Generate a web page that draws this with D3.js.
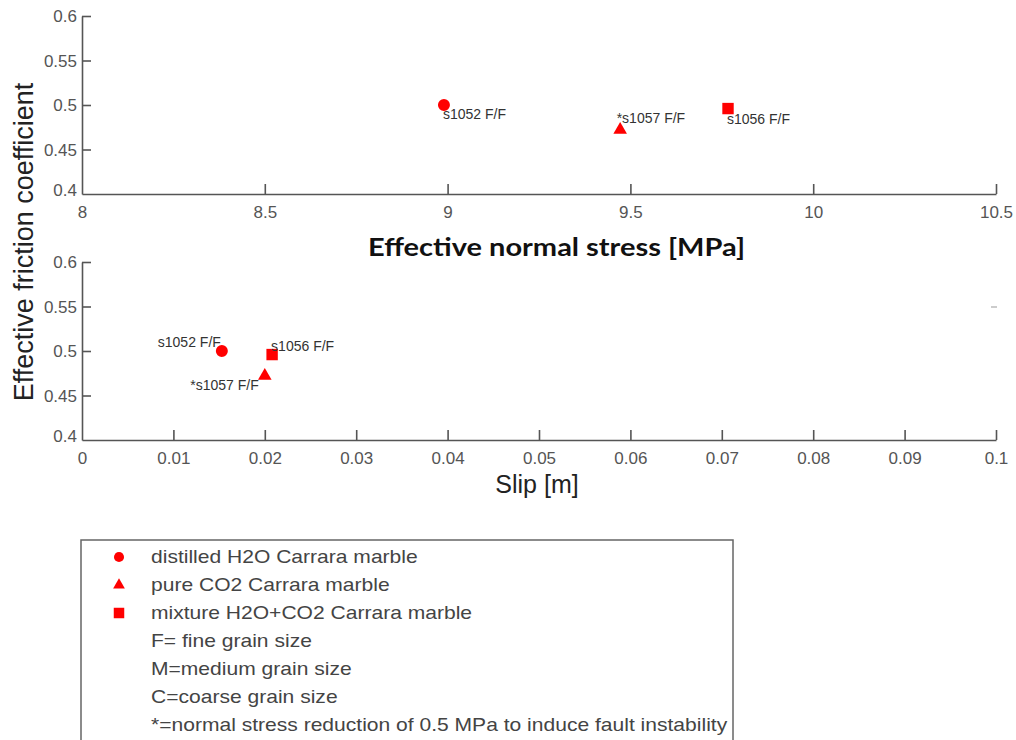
<!DOCTYPE html>
<html>
<head>
<meta charset="utf-8">
<script src="https://cdn.jsdelivr.net/npm/d3@7"></script>
<style>
  body { margin: 0; background: #fff; }
  svg { display: block; }
  .tick text { font-family: Arial, "Liberation Sans", sans-serif; font-size: 17px; fill: #555; }
  .axis path, .axis line { stroke: #555; stroke-width: 1.6px; }
</style>
</head>
<body>
<svg id="chart"></svg>
<script>
// sample data
const samples = ["s1052 F/F", "*s1057 F/F", "s1056 F/F"];
const shapes = ["circle", "triangle", "square"];
const stress = [8.99, 9.472, 9.767];      // effective normal stress [MPa]
const slip = [0.0153, 0.0200, 0.0208];    // slip [m]
const friction = [0.500, 0.472, 0.496];   // effective friction coefficient

const stressTicks = [8, 8.5, 9, 9.5, 10, 10.5];
const slipTicks = [0, 0.01, 0.02, 0.03, 0.04, 0.05, 0.06, 0.07, 0.08, 0.09, 0.1];
const frictionTicks = [0.4, 0.45, 0.5, 0.55, 0.6];

const legendItems = [
    ["circle", "distilled H2O Carrara marble"],
    ["triangle", "pure CO2 Carrara marble"],
    ["square", "mixture H2O+CO2 Carrara marble"],
    [null, "F= fine grain size"],
    [null, "M=medium grain size"],
    [null, "C=coarse grain size"],
    [null, "*=normal stress reduction of 0.5 MPa to induce fault instability"]
];

const width = 1016;
const height = 740;
const red = "#ff0000";

const svg = d3.select("#chart")
    .attr("width", width)
    .attr("height", height);

const symbolFor = {
    circle: d3.symbol(d3.symbolCircle, 113),
    triangle: d3.symbol(d3.symbolTriangle, 80),
    square: d3.symbol(d3.symbolSquare, 130)
};

const x1 = d3.scaleLinear().domain([8, 10.5]).range([82, 996]);
const y1 = d3.scaleLinear().domain([0.4, 0.6]).range([194, 16]);
const x2 = d3.scaleLinear().domain([0, 0.1]).range([82, 996]);
const y2 = d3.scaleLinear().domain([0.4, 0.6]).range([440, 262]);

const fmt = d => String(+d.toFixed(3));

function drawPanel(xs, ys, xTicks, xVals) {
    const gx = svg.append("g")
        .attr("class", "axis")
        .attr("transform", `translate(0,${ys.range()[0]})`)
        .call(d3.axisBottom(xs).tickValues(xTicks).tickFormat(fmt).tickSize(-10).tickSizeOuter(0));
    gx.selectAll(".tick text").attr("y", 12).attr("dy", "0.71em");
    gx.select(".tick:first-of-type line").remove();

    const gy = svg.append("g")
        .attr("class", "axis")
        .attr("transform", `translate(${xs.range()[0]},0)`)
        .call(d3.axisLeft(ys).tickValues(frictionTicks).tickFormat(fmt).tickSize(-9).tickSizeOuter(0));
    gy.selectAll(".tick text").attr("x", -5).attr("dy", "0.35em");
    gy.select(".tick:first-of-type line").remove();
    gy.select(".tick:first-of-type text").attr("dy", "0.1em");

    svg.append("g")
        .selectAll("path")
        .data(samples)
        .join("path")
        .attr("d", (d, i) => symbolFor[shapes[i]]())
        .attr("transform", (d, i) => `translate(${xs(xVals[i])},${ys(friction[i])})`)
        .attr("fill", red);
}

drawPanel(x1, y1, stressTicks, stress);
drawPanel(x2, y2, slipTicks, slip);

// point labels
const labelStyle = sel => sel
    .attr("font-family", "Arial, 'Liberation Sans', sans-serif")
    .attr("font-size", 14)
    .attr("fill", "#333");

const topOffsets = [[-1, 14], [-3.5, -7], [-1, 15]];
svg.append("g").selectAll("text")
    .data(samples)
    .join("text")
    .attr("x", (d, i) => x1(stress[i]) + topOffsets[i][0])
    .attr("y", (d, i) => y1(friction[i]) + topOffsets[i][1])
    .text(d => d)
    .call(labelStyle);

const botOffsets = [[-1, -4, "end"], [-6, 14, "end"], [-1, -4, "start"]];
svg.append("g").selectAll("text")
    .data(samples)
    .join("text")
    .attr("x", (d, i) => x2(slip[i]) + botOffsets[i][0])
    .attr("y", (d, i) => y2(friction[i]) + botOffsets[i][1])
    .attr("text-anchor", (d, i) => botOffsets[i][2])
    .text(d => d)
    .call(labelStyle);

// axis titles
svg.append("text")
    .attr("x", 368)
    .attr("y", 256)
    .attr("font-family", "Lato, 'Open Sans', sans-serif")
    .attr("font-weight", "bold")
    .attr("font-size", 24)
    .attr("textLength", 377)
    .attr("lengthAdjust", "spacingAndGlyphs")
    .attr("fill", "#111")
    .text("Effective normal stress [MPa]");

svg.append("text")
    .attr("x", 537)
    .attr("y", 493)
    .attr("text-anchor", "middle")
    .attr("font-family", "Arial, 'Liberation Sans', sans-serif")
    .attr("font-size", 25)
    .attr("fill", "#222")
    .text("Slip [m]");

svg.append("text")
    .attr("transform", "translate(33,242) rotate(-90)")
    .attr("text-anchor", "middle")
    .attr("font-family", "Arial, 'Liberation Sans', sans-serif")
    .attr("font-size", 27)
    .attr("fill", "#222")
    .text("Effective friction coefficient");

// stray mark at right of lower panel
svg.append("line")
    .attr("x1", 991).attr("x2", 997)
    .attr("y1", 307).attr("y2", 307)
    .attr("stroke", "#bbb")
    .attr("stroke-width", 1.5);

// legend box
const legend = svg.append("g").attr("transform", "translate(81,540)");
legend.append("rect")
    .attr("x", 0).attr("y", 0)
    .attr("width", 652).attr("height", 220)
    .attr("fill", "none")
    .attr("stroke", "#666")
    .attr("stroke-width", 1.5);

const legendSymbols = {
    circle: d3.symbol(d3.symbolCircle, 80),
    triangle: d3.symbol(d3.symbolTriangle, 60),
    square: d3.symbol(d3.symbolSquare, 110)
};

const row = legend.selectAll("g.row")
    .data(legendItems)
    .join("g")
    .attr("class", "row")
    .attr("transform", (d, i) => `translate(0,${17 + i * 28})`);

row.filter(d => d[0])
    .append("path")
    .attr("d", d => legendSymbols[d[0]]())
    .attr("transform", "translate(38,0)")
    .attr("fill", red);

row.append("text")
    .attr("transform", "translate(70,0) scale(1.17,1)")
    .attr("dy", "0.35em")
    .attr("font-family", "Arial, 'Liberation Sans', sans-serif")
    .attr("font-size", 18)
    .attr("fill", "#444")
    .text(d => d[1]);
</script>
</body>
</html>
